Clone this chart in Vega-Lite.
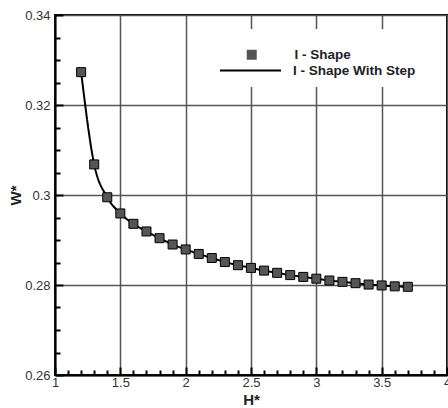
{
  "$schema": "https://vega.github.io/schema/vega-lite/v6.json",
  "width": 392,
  "height": 360,
  "autosize": {"type": "none"},
  "padding": {"left": 55, "top": 15, "right": 1, "bottom": 33},
  "background": "white",
  "config": {
    "view": {"stroke": "black", "strokeWidth": 2},
    "font": "Liberation Sans"
  },
  "data": {
    "values": [
      {"H": 1.2, "W": 0.3273},
      {"H": 1.3, "W": 0.3068},
      {"H": 1.4, "W": 0.2995},
      {"H": 1.5, "W": 0.2959},
      {"H": 1.6, "W": 0.2936},
      {"H": 1.7, "W": 0.2919},
      {"H": 1.8, "W": 0.2904},
      {"H": 1.9, "W": 0.2890},
      {"H": 2.0, "W": 0.2879},
      {"H": 2.1, "W": 0.2869},
      {"H": 2.2, "W": 0.2860},
      {"H": 2.3, "W": 0.2851},
      {"H": 2.4, "W": 0.2844},
      {"H": 2.5, "W": 0.2838},
      {"H": 2.6, "W": 0.2832},
      {"H": 2.7, "W": 0.2827},
      {"H": 2.8, "W": 0.2822},
      {"H": 2.9, "W": 0.2818},
      {"H": 3.0, "W": 0.2814},
      {"H": 3.1, "W": 0.2810},
      {"H": 3.2, "W": 0.2807},
      {"H": 3.3, "W": 0.2804},
      {"H": 3.4, "W": 0.2801},
      {"H": 3.5, "W": 0.2799},
      {"H": 3.6, "W": 0.2797},
      {"H": 3.7, "W": 0.2796}
    ]
  },
  "encoding": {
    "x": {
      "field": "H", "type": "quantitative",
      "scale": {"domain": [1, 4], "nice": false, "zero": false},
      "axis": {
        "title": "H*",
        "titleFont": "Liberation Sans", "titleFontSize": 15, "titleFontWeight": "bold", "titleColor": "#222",
        "titlePadding": 0,
        "values": [1,1.1,1.2,1.3,1.4,1.5,1.6,1.7,1.8,1.9,2,2.1,2.2,2.3,2.4,2.5,2.6,2.7,2.8,2.9,3,3.1,3.2,3.3,3.4,3.5,3.6,3.7,3.8,3.9,4],
        "labelExpr": "abs(datum.value*2 - round(datum.value*2)) < 1e-6 ? format(datum.value, '~g') : ''",
        "labelFontSize": 13, "labelColor": "#333", "labelPadding": 9, "labelFlush": false, "labelOverlap": false,
        "domain": true, "domainColor": "black", "domainWidth": 2,
        "ticks": true, "tickColor": "black", "tickWidth": 2,
        "tickSize": {"condition": {"test": "abs(datum.value*2 - round(datum.value*2)) < 1e-6", "value": -8}, "value": -5},
        "grid": true, "gridColor": "#555", "gridWidth": 1.5,
        "gridOpacity": {"condition": {"test": "abs(datum.value*2 - round(datum.value*2)) < 1e-6", "value": 1}, "value": 0}
      }
    },
    "y": {
      "field": "W", "type": "quantitative",
      "scale": {"domain": [0.26, 0.34], "nice": false, "zero": false},
      "axis": {
        "title": "W*",
        "titleFont": "Liberation Sans", "titleFontSize": 15, "titleFontWeight": "bold", "titleColor": "#222",
        "titlePadding": 1,
        "values": [0.26,0.265,0.27,0.275,0.28,0.285,0.29,0.295,0.3,0.305,0.31,0.315,0.32,0.325,0.33,0.335,0.34],
        "labelExpr": "abs(datum.value*50 - round(datum.value*50)) < 1e-6 ? format(datum.value, '~g') : ''",
        "labelFontSize": 13, "labelColor": "#333", "labelPadding": 13, "labelOverlap": false, "labelFlush": false,
        "domain": true, "domainColor": "black", "domainWidth": 2,
        "ticks": true, "tickColor": "black", "tickWidth": 2,
        "tickSize": {"condition": {"test": "abs(datum.value*50 - round(datum.value*50)) < 1e-6", "value": -8}, "value": -5},
        "grid": true, "gridColor": "#555", "gridWidth": 1.5,
        "gridOpacity": {"condition": {"test": "abs(datum.value*50 - round(datum.value*50)) < 1e-6", "value": 1}, "value": 0}
      }
    }
  },
  "layer": [
    {
      "mark": {"type": "line", "color": "black", "strokeWidth": 2, "interpolate": "monotone"},
      "encoding": {
        "strokeDash": {
          "datum": "I - Shape With Step",
          "scale": {"range": [[1, 0]]},
          "legend": {
            "title": null, "orient": "none", "legendX": 154, "legendY": 14,
            "padding": 10, "fillColor": "white", "zindex": 0,
            "symbolType": "stroke", "symbolSize": 3721, "symbolStrokeWidth": 2, "symbolStrokeColor": "black",
            "labelFont": "Liberation Sans", "labelFontSize": 13.5, "labelFontWeight": "bold", "labelColor": "#222",
            "labelOffset": 11
          }
        }
      }
    },
    {
      "mark": {"type": "point", "filled": true, "fill": "#555", "stroke": "black", "strokeWidth": 1, "size": 81, "opacity": 1},
      "encoding": {
        "shape": {
          "datum": "I - Shape",
          "scale": {"range": ["square"]},
          "legend": {
            "title": null, "orient": "none", "legendX": 190, "legendY": 33,
            "padding": 0, "zindex": 1,
            "symbolSize": 100, "symbolFillColor": "#555", "symbolStrokeColor": "black", "symbolStrokeWidth": 1, "symbolOpacity": 1,
            "labelFont": "Liberation Sans", "labelFontSize": 13.5, "labelFontWeight": "bold", "labelColor": "#222",
            "labelOffset": 36
          }
        }
      }
    }
  ]
}
